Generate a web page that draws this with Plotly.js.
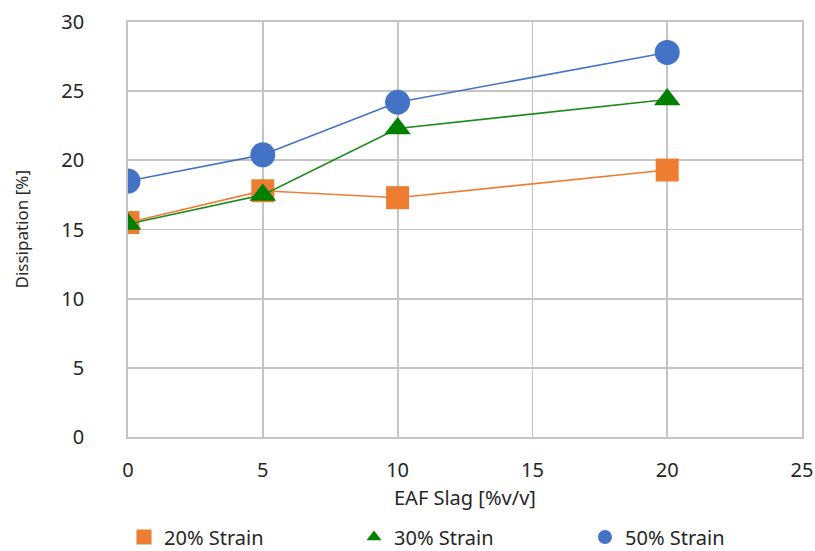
<!DOCTYPE html>
<html>
<head>
<meta charset="utf-8">
<script src="https://cdn.plot.ly/plotly-3.0.1.min.js"></script>
<style>html,body{margin:0;padding:0;background:#fff;}#chart{width:815px;height:551px;}</style>
</head>
<body>
<div id="chart"></div>
<script>
var slag = [0, 5, 10, 20];
var strain20 = [15.5, 17.8, 17.3, 19.3];
var strain30 = [15.4, 17.5, 22.3, 24.4];
var strain50 = [18.5, 20.4, 24.2, 27.8];
var seriesNames = ['20% Strain', '30% Strain', '50% Strain'];
var xTicks = [0, 5, 10, 15, 20, 25];
var yTicks = [0, 5, 10, 15, 20, 25, 30];
var xTitle = 'EAF Slag [%v/v]';
var yTitle = 'Dissipation [%]';

var colors = ['#ED7D31', '#008000', '#4472C4'];
var symbols = ['square', 'triangle-up', 'circle'];
var lineColors = ['#ED7D31', '#1E8A1E', '#4472C4'];
var sizes = [23, 23, 25];
var legendSizes = [15, 13, 14];
var legendIds = ['legend', 'legend2', 'legend3'];
var legendX = [124, 354, 585];
var data = [strain20, strain30, strain50];

var traces = [];
for (var i = 0; i < 3; i++) {
  traces.push({
    x: slag, y: data[i], type: 'scatter', mode: 'lines+markers',
    name: seriesNames[i], showlegend: false,
    line: {color: lineColors[i], width: 1.6},
    marker: {color: colors[i], symbol: symbols[i], size: sizes[i]}
  });
}
for (var j = 0; j < 3; j++) {
  traces.push({
    x: [null], y: [null], type: 'scatter', mode: 'markers',
    name: seriesNames[j], showlegend: true, legend: legendIds[j],
    marker: {color: colors[j], symbol: symbols[j], size: legendSizes[j]}
  });
}

var txt = '#262626';
var W = 815, H = 551;
var layout = {
  width: W, height: H,
  margin: {l: 128, r: 13, t: 22, b: 114},
  paper_bgcolor: '#fff', plot_bgcolor: '#fff',
  font: {family: 'Noto Sans, sans-serif', color: txt, size: 20},
  showlegend: true,
  xaxis: {range: [0, 25], tickvals: xTicks, showgrid: true, gridcolor: '#C4C4C4', gridwidth: 1.8,
          zeroline: false, showline: true, mirror: true, linecolor: '#C4C4C4', linewidth: 1.8,
          ticks: '', ticklabelstandoff: 14, fixedrange: true, tickfont: {size: 20, color: txt}},
  yaxis: {range: [0, 30], tickvals: yTicks, showgrid: true, gridcolor: '#C4C4C4', gridwidth: 1.8,
          zeroline: false, showline: true, mirror: true, linecolor: '#C4C4C4', linewidth: 1.8,
          ticks: '', ticklabelstandoff: 38, fixedrange: true, tickfont: {size: 20, color: txt}},
  annotations: [
    {text: xTitle, xref: 'paper', yref: 'paper', x: 0.5, y: 0, xanchor: 'center', yanchor: 'middle',
     yshift: -60, showarrow: false, font: {size: 20, color: txt}},
    {text: yTitle, xref: 'paper', yref: 'paper', x: 0, y: 0.5, xanchor: 'center', yanchor: 'middle',
     xshift: -107, textangle: -90, showarrow: false, font: {size: 17, color: txt}}
  ]
};
for (var k = 0; k < 3; k++) {
  layout[legendIds[k]] = {
    orientation: 'h', xref: 'container', yref: 'container',
    x: legendX[k] / W, xanchor: 'left', y: 14 / H, yanchor: 'middle',
    bgcolor: 'rgba(0,0,0,0)', font: {size: 20, color: txt}
  };
}
Plotly.newPlot('chart', traces, layout, {displayModeBar: false, staticPlot: true});
</script>
</body>
</html>
